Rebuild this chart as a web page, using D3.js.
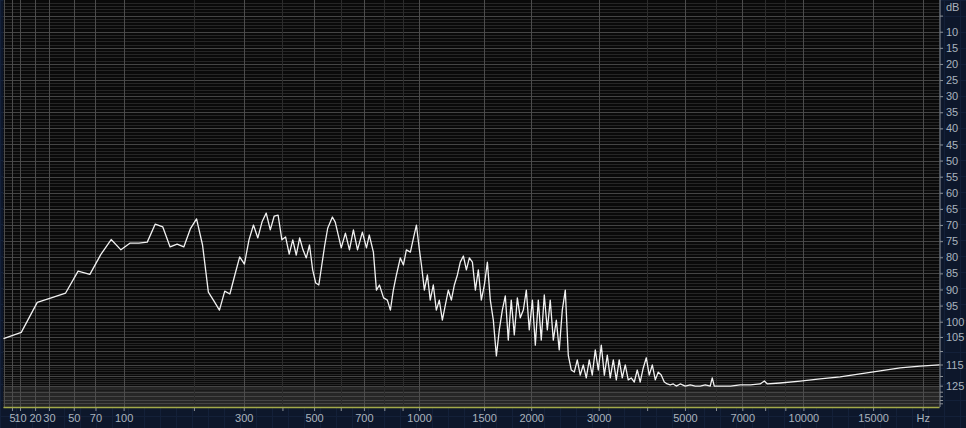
<!DOCTYPE html>
<html>
<head>
<meta charset="utf-8">
<script src="https://cdn.jsdelivr.net/npm/d3@7"></script>
<style>
html, body { margin: 0; padding: 0; background: #0d172b; overflow: hidden; }
text { font-family: "Liberation Sans", Arial, sans-serif; font-size: 11px; fill: #aab3bd; }
</style>
</head>
<body>
<div id="spectre"></div>
<script>
//----------------------------------------------------------------
//  données (Hz, dB)
//----------------------------------------------------------------
var frequences = [0, 10.8, 21.5, 32.3, 43.1, 53.8, 64.6, 75.4, 86.1, 96.9,
  107.7, 118.4, 129.2, 140, 150.7, 161.5, 172.3, 183, 193.8, 204.6,
  215.3, 226.1, 236.9, 247.6, 258.4, 269.2, 279.9, 290.7, 301.5, 312.2,
  323, 333.8, 344.5, 355.3, 366.1, 376.8, 387.6, 398.4, 409.1, 419.9,
  430.7, 441.4, 452.2, 462.9, 473.7, 484.5, 495.2, 506, 516.8, 527.5,
  538.3, 549.1, 567, 578, 602, 619, 636, 653, 671, 693,
  712, 725, 745, 760, 775, 796, 816, 832, 848, 865,
  887, 905, 922, 946, 965, 983, 1002, 1015, 1034, 1054,
  1073, 1094, 1115, 1136, 1158, 1180, 1202, 1225, 1248, 1272,
  1295, 1320, 1345, 1370, 1396, 1422, 1448, 1475, 1503, 1531,
  1559, 1588, 1618, 1647, 1678, 1709, 1740, 1772, 1805, 1839,
  1872, 1907, 1942, 1977, 2015, 2051, 2088, 2126, 2165, 2205,
  2244, 2286, 2328, 2369, 2413, 2457, 2501, 2547, 2593, 2640,
  2687, 2736, 2786, 2836, 2887, 2940, 2993, 3047, 3103, 3158,
  3214, 3273, 3332, 3390, 3452, 3514, 3576, 3640, 3707, 3773,
  3839, 3909, 3980, 4050, 4124, 4198, 4272, 4347, 4426, 4505,
  4584, 4667, 4751, 4862, 5009, 5156, 5312, 5468, 5633, 5799,
  5869, 5939, 6149, 6531, 6913, 7342, 7771, 7963, 8107, 8733,
  9813, 11022, 12384, 13909, 15624, 17545, 19700, 22050];

var niveaux = [105.6, 103.5, 94.0, 92.5, 91.1, 84.3, 85.3, 79.1, 74.5, 77.7,
  75.6, 75.6, 75.3, 69.7, 70.6, 76.8, 75.9, 76.8, 71.2, 68.1,
  76.2, 90.8, 93.6, 96.4, 90.5, 91.4, 85.5, 79.9, 82.1, 74.6,
  70.0, 74.0, 69.0, 66.3, 71.5, 67.2, 66.9, 74.6, 73.7, 79.0,
  74.6, 79.3, 74.0, 77.7, 80.2, 76.2, 83.9, 88.0, 88.6, 82.4,
  76.2, 71.0, 67.5, 69.1, 77.1, 72.5, 77.7, 71.5, 77.7, 72.2,
  77.1, 73.1, 78.4, 90.2, 88.6, 92.6, 93.3, 96.4, 90.2, 85.5,
  80.2, 82.4, 77.7, 78.4, 74.0, 70.0, 77.7, 82.4, 90.2, 85.5,
  93.3, 88.6, 96.4, 93.3, 99.5, 94.8, 90.2, 93.3, 88.6, 85.5,
  81.5, 79.6, 83.9, 80.2, 81.5, 90.2, 83.9, 93.3, 88.6, 81.5,
  93.3, 99.5, 111.8, 102.7, 96.4, 92.0, 106.1, 93.3, 104.3, 92.6,
  98.8, 96.4, 90.2, 102.7, 93.3, 107.9, 93.3, 106.1, 91.7, 102.7,
  93.3, 106.1, 99.5, 109.6, 96.4, 90.2, 111.5, 117.4, 118.3, 113.3,
  119.6, 115.2, 121.0, 113.3, 119.6, 109.6, 117.4, 107.9, 119.6, 111.5,
  121.0, 113.3, 122.0, 113.3, 121.0, 115.2, 122.0, 121.0, 123.1, 117.4,
  123.1, 116.5, 112.5, 119.6, 115.2, 122.0, 118.3, 119.6, 123.1, 124.1,
  124.6, 124.1, 125.3, 124.1, 125.3, 124.6, 125.3, 125.3, 124.6, 125.3,
  121.0, 125.3, 125.3, 125.3, 124.6, 124.6, 124.1, 122.6, 124.1, 123.6,
  122.6, 121.5, 120.5, 119.1, 117.8, 116.5, 115.7, 115.2];

// graduations
var ticksHz = [5, 10, 20, 30, 50, 70, 100, 300, 500, 700, 1000, 1500, 2000, 3000, 5000, 7000, 10000, 15000, 20000];
var ticksHzMineurs = [200, 400, 600, 800, 900, 4000, 6000, 8000, 9000];
var ticksDb = [10, 15, 20, 25, 30, 35, 40, 45, 50, 55, 60, 65, 70, 75, 80, 85, 90, 95, 100, 105, 115, 125];
var ticksDbMineurs = [5, 110, 120, 130, 135, 140, 145];

//----------------------------------------------------------------
//  svg
//----------------------------------------------------------------
largeurSvg = 966; hauteurSvg = 428;
var zone = {gauche: 3.5, droite: 939.5, haut: 0, bas: 407};

var svg = d3.select("#spectre")
    .append("svg")
    .attr("width", largeurSvg)
    .attr("height", hauteurSvg);

// échelles : fréquence en "log(f+100)", dB linéaire puis tassé en bas
var x = d3.scaleSymlog()
    .constant(100)
    .domain([0, 22050])
    .range([zone.gauche, zone.droite]);
var y = d3.scaleLinear()
    .domain([0, 100, 105, 110, 115, 120, 125, 130, 135, 140, 145, 150])
    .range([-0.5, 321.7, 337, 351, 364.5, 376, 385.7, 391.7, 396.2, 400, 403.3, 406.5]);

// motif léger du fond bleu
var fond = svg.append("g");
for (var i = 0; i < largeurSvg; i += 16) {
    fond.append("line").attr("x1", i + 0.5).attr("x2", i + 0.5).attr("y1", 0).attr("y2", hauteurSvg)
        .attr("stroke", "#132039").attr("stroke-width", 1);
}
for (var j = 0; j < hauteurSvg; j += 16) {
    fond.append("line").attr("x1", 0).attr("x2", largeurSvg).attr("y1", j + 0.5).attr("y2", j + 0.5)
        .attr("stroke", "#132039").attr("stroke-width", 1);
}

// zone du tracé
svg.append("rect")
    .attr("x", zone.gauche).attr("y", 0)
    .attr("width", zone.droite - zone.gauche).attr("height", zone.bas)
    .attr("fill", "#0a0a0a");
svg.append("rect")
    .attr("x", zone.gauche).attr("y", y(128))
    .attr("width", zone.droite - zone.gauche).attr("height", zone.bas - y(128))
    .attr("fill", "#1a1a1a");

var grille = svg.append("g");

// lignes horizontales tous les dB
grille.selectAll("line.h")
    .data(d3.range(1, 151))
    .enter().append("line")
    .attr("x1", zone.gauche).attr("x2", zone.droite)
    .attr("y1", function(d) { return Math.round(y(d)) + 0.5; })
    .attr("y2", function(d) { return Math.round(y(d)) + 0.5; })
    .attr("stroke", function(d) { return d % 5 == 0 ? "#454545" : "#262626"; })
    .attr("stroke-width", 1);

// lignes verticales
grille.selectAll("line.vm")
    .data(ticksHzMineurs)
    .enter().append("line")
    .attr("x1", function(d) { return Math.round(x(d)) + 0.5; })
    .attr("x2", function(d) { return Math.round(x(d)) + 0.5; })
    .attr("y1", 0).attr("y2", zone.bas)
    .attr("stroke", "#2c2c2c");
grille.selectAll("line.v")
    .data([0].concat(ticksHz))
    .enter().append("line")
    .attr("x1", function(d) { return Math.round(x(d)) + 0.5; })
    .attr("x2", function(d) { return Math.round(x(d)) + 0.5; })
    .attr("y1", 0).attr("y2", zone.bas)
    .attr("stroke", "#4c4c4c");

// ligne jaune du bas
svg.append("line")
    .attr("x1", zone.gauche).attr("x2", zone.droite)
    .attr("y1", zone.bas + 0.5).attr("y2", zone.bas + 0.5)
    .attr("stroke", "#a3aa4a").attr("stroke-width", 1.5);

//----------------------------------------------------------------
//  axes
//----------------------------------------------------------------
var axeY = svg.append("g")
    .attr("transform", "translate(" + (zone.droite + 0.5) + ",0)")
    .call(d3.axisRight(y)
        .tickValues(ticksDb.concat(ticksDbMineurs))
        .tickSize(3)
        .tickPadding(3)
        .tickFormat(function(d) { return ticksDb.indexOf(d) >= 0 ? d : ""; }));
axeY.select(".domain").attr("stroke", "#8d9297").attr("d", "M0,0V" + zone.bas);
axeY.selectAll(".tick line").attr("stroke", "#8d9297");
axeY.selectAll("text").attr("fill", "#aab3bd").style("font-size", "11px");
svg.append("text")
    .attr("x", 946).attr("y", 11)
    .text("dB");

var axeX = svg.append("g")
    .attr("transform", "translate(0," + (zone.bas + 1) + ")")
    .call(d3.axisBottom(x)
        .tickValues(ticksHz.concat(ticksHzMineurs))
        .tickSize(3)
        .tickPadding(3)
        .tickFormat(function(d) { return d == 20000 ? "Hz" : (ticksHz.indexOf(d) >= 0 ? d : ""); }));
axeX.select(".domain").remove();
axeX.selectAll(".tick line").attr("stroke", "#8d9297");
axeX.selectAll("text").attr("fill", "#aab3bd").style("font-size", "11px");

//----------------------------------------------------------------
//  le spectre
//----------------------------------------------------------------
var points = frequences.map(function(f, i) { return [f, niveaux[i]]; });
var ligne = d3.line()
    .x(function(d) { return x(d[0]); })
    .y(function(d) { return y(d[1]); });

svg.append("path")
    .datum(points)
    .attr("d", ligne)
    .attr("fill", "none")
    .attr("stroke", "#f2f2f2")
    .attr("stroke-width", 1.3)
    .attr("stroke-linejoin", "round");
</script>
</body>
</html>
